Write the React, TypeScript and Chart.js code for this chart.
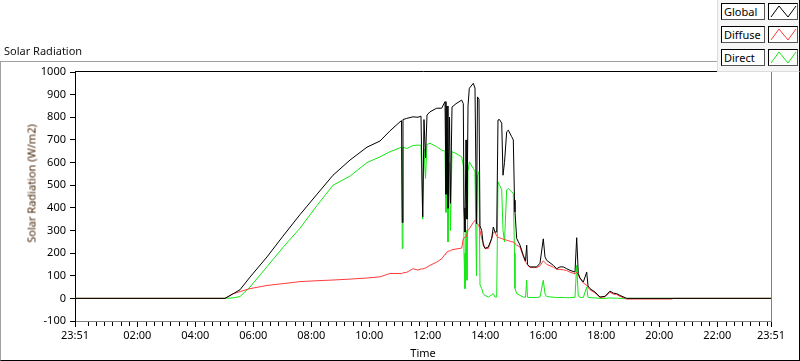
import React, { useEffect, useRef } from 'react';
import { Chart, registerables } from 'chart.js';

Chart.register(...registerables);

// Time of day in hours (23:51 previous day = -0.15)
const times = [
  -0.15, 5.022, 5.298, 5.54, 5.884, 6.471, 7.022, 7.609, 8.195, 8.747, 9.333, 9.919, 10.367, 10.712,
  11.057, 11.109, 11.136, 11.16, 11.288, 11.505, 11.678, 11.781, 11.84, 11.884, 11.936, 11.988,
  12.091, 12.322, 12.495, 12.609, 12.643, 12.678, 12.712, 12.764, 12.798, 12.85, 12.988, 13.184,
  13.24, 13.264, 13.298, 13.333, 13.367, 13.402, 13.447, 13.584, 13.643, 13.695, 13.729, 13.781,
  13.816, 13.874, 13.929, 13.988, 14.102, 14.219, 14.274, 14.333, 14.391, 14.436, 14.488, 14.564,
  14.609, 14.66, 14.736, 14.791, 14.909, 14.964, 15.005, 15.022, 15.081, 15.195, 15.309, 15.384,
  15.426, 15.453, 15.54, 15.771, 15.884, 15.998, 16.057, 16.115, 16.343, 16.46, 16.574, 16.688,
  16.805, 16.919, 17.091, 17.15, 17.205, 17.264, 17.378, 17.495, 17.54, 17.609, 17.781, 17.953,
  18.126, 18.298, 18.412, 18.529, 18.643, 18.874, 20.436, 20.471, 23.85,
];

const globalW = [
  0, 0, 20, 38, 94, 183, 275, 370, 460, 544, 611, 668, 695, 740,
  780, 785, 335, 790, 795, 802, 800, 805, 360, 790, 620, 810,
  824, 840, 840, 869, 460, 850, 398, 800, 420, 845, 860, 876,
  860, 400, 293, 700, 350, 850, 928, 950, 929, 330, 890, 880,
  320, 300, 235, 221, 227, 265, 315, 293, 293, 788, 790, 774,
  544, 600, 736, 743, 714, 700, 434, 382, 265, 235, 190, 165,
  235, 150, 139, 139, 155, 263, 183, 168, 146, 131, 139, 139,
  131, 124, 116, 268, 110, 90, 72, 116, 55, 43, 28, 6,
  9, 32, 23, 21, 13, 0, 0, 0, 0,
];

const diffuseW = [
  0, 0, 20, 30, 43, 57, 65, 74, 78, 81, 85, 90, 95, 110,
  110, 108, 112, 112, 115, 131, 125, 130, 130, 132, 134, 138,
  146, 160, 175, 195, 198, 205, 205, 210, 210, 215, 218, 222,
  264, 268, 270, 275, 285, 300, 308, 335, 345, 338, 330, 320,
  300, 264, 245, 220, 220, 264, 290, 293, 275, 270, 268, 264,
  262, 260, 257, 255, 250, 249, 245, 242, 235, 227, 185, 160,
  155, 148, 136, 136, 144, 166, 158, 150, 138, 128, 128, 126,
  123, 116, 108, 116, 103, 88, 68, 58, 48, 38, 24, 4,
  7, 27, 19, 17, 9, -3, -3, 0, 0,
];

const directW = [
  0, 0, 2, 8, 50, 140, 225, 310, 410, 500, 540, 600, 625, 648,
  665, 668, 220, 668, 662, 675, 677, 676, 350, 660, 530, 680,
  685, 670, 655, 650, 380, 640, 249, 600, 300, 648, 640, 625,
  588, 200, 43, 300, 80, 560, 603, 574, 560, 100, 540, 560,
  60, 43, 20, 13, 6, 15, 21, 6, 6, 515, 500, 480,
  300, 250, 480, 485, 470, 465, 200, 44, 21, 13, 6, 5,
  80, 5, 4, 4, 6, 80, 20, 8, 5, 4, 4, 4,
  3, 3, 5, 146, 10, 5, 4, 50, 5, 3, 2, 0,
  0, 2, 1, 1, 0, 0, 0, 0, 0,
];

const xTickValues = [-0.15, 2, 4, 6, 8, 10, 12, 14, 16, 18, 20, 22, 23.85];
const xTickLabels = ['23:51', '02:00', '04:00', '06:00', '08:00', '10:00', '12:00', '14:00', '16:00', '18:00', '20:00', '22:00', '23:51'];

const seriesNames = ['Global', 'Diffuse', 'Direct'];
const seriesColors = ['#000000', '#ff3b3b', '#14e614'];

const FONT = "'Noto Sans', sans-serif";

function minorTickValues(): number[] {
  const out: number[] = [];
  const step = 2 / 7;
  for (let k = -60; k <= 120; k++) {
    const v = 2 + k * step;
    if (v > -0.15 + 0.01 && v < 23.85 - 0.01) {
      if (Math.abs(v / 2 - Math.round(v / 2)) > 0.001) out.push(v);
    }
  }
  return out;
}

const framePlugin = {
  id: 'frame',
  afterDraw(chart: any) {
    const { ctx, chartArea: a, scales } = chart;
    const x = scales.x;
    ctx.save();
    ctx.lineWidth = 1;
    ctx.strokeStyle = '#000';
    ctx.beginPath();
    ctx.moveTo(a.left, Math.round(a.top) - 0.5);
    ctx.lineTo(a.right + 1, Math.round(a.top) - 0.5);
    ctx.stroke();
    ctx.strokeStyle = '#808080';
    ctx.beginPath();
    ctx.moveTo(Math.round(a.right) + 0.5, a.top);
    ctx.lineTo(Math.round(a.right) + 0.5, a.bottom + 1);
    ctx.stroke();
    ctx.strokeStyle = '#000';
    ctx.beginPath();
    for (const t of minorTickValues()) {
      const px = Math.round(x.getPixelForValue(t)) + 0.5;
      ctx.moveTo(px, Math.round(a.bottom) + 1);
      ctx.lineTo(px, Math.round(a.bottom) + 5);
    }
    ctx.stroke();
    ctx.restore();
  },
};

function Swatch({ color }: { color: string }) {
  return (
    <svg width="28" height="15" style={{ display: 'block' }}>
      <polyline points="2,13 10,2 19,13 27,2" fill="none" stroke={color} strokeWidth="1" />
    </svg>
  );
}

export default function App() {
  const ref = useRef<HTMLCanvasElement | null>(null);

  useEffect(() => {
    if (!ref.current) return;
    const mk = (vals: number[]) => times.map((t, i) => ({ x: t, y: vals[i] }));
    const chart = new Chart(ref.current, {
      type: 'line',
      data: {
        datasets: [
          { label: 'Global', data: mk(globalW), borderColor: seriesColors[0], borderWidth: 1, pointRadius: 0, tension: 0 },
          { label: 'Diffuse', data: mk(diffuseW), borderColor: seriesColors[1], borderWidth: 1, pointRadius: 0, tension: 0 },
          { label: 'Direct', data: mk(directW), borderColor: seriesColors[2], borderWidth: 1, pointRadius: 0, tension: 0 },
        ],
      },
      options: {
        animation: false,
        responsive: false,
        devicePixelRatio: 1,
        layout: { padding: { top: 72, right: 29, left: 0, bottom: 0 } },
        plugins: { legend: { display: false }, tooltip: { enabled: false } },
        scales: {
          x: {
            type: 'linear',
            min: -0.15,
            max: 23.85,
            afterBuildTicks: (scale: any) => {
              scale.ticks = xTickValues.map((v) => ({ value: v }));
            },
            afterFit: (scale: any) => {
              scale.height = 40;
            },
            ticks: {
              autoSkip: false,
              maxRotation: 0,
              padding: 2,
              color: '#000',
              font: { family: FONT, size: 11 },
              callback: (_v: any, i: number) => xTickLabels[i],
            },
            grid: { drawOnChartArea: false, drawTicks: true, tickLength: 6, color: '#000' },
            border: { color: '#808080', width: 1 },
          },
          y: {
            min: -100,
            max: 1000,
            afterFit: (scale: any) => {
              scale.width = 75;
            },
            ticks: {
              stepSize: 100,
              padding: 4,
              color: '#000',
              font: { family: FONT, size: 11 },
              callback: (v: any) => String(v),
            },
            grid: { drawOnChartArea: false, drawTicks: true, tickLength: 5, color: '#000' },
            border: { color: '#000', width: 1 },
          },
        },
      },
      plugins: [framePlugin],
    } as any);
    return () => chart.destroy();
  }, []);

  const rowTops = [3, 26, 49];

  return (
    <div style={{ position: 'fixed', left: 0, top: 0, width: 800, height: 361, background: '#fff', overflow: 'hidden', fontFamily: FONT }}>
      <div style={{ position: 'absolute', left: 0, top: 61, width: 798, height: 298, borderTop: '1px solid #a0a0a0', borderLeft: '1px solid #a0a0a0', borderRight: '1px solid #000', borderBottom: '1px solid #000' }} />
      <canvas ref={ref} width={800} height={361} style={{ position: 'absolute', left: 0, top: 0, width: 800, height: 361 }} />
      <div style={{ position: 'absolute', left: 4, top: 45, fontSize: 11, lineHeight: '11px', color: '#111', whiteSpace: 'nowrap' }}>Solar Radiation</div>
      <div style={{ position: 'absolute', left: 31 - 100, top: 183 - 5.5, width: 200, textAlign: 'center', fontSize: 11, lineHeight: '11px', color: '#4a2608', transform: 'rotate(-90deg)', transformOrigin: '50% 50%', whiteSpace: 'nowrap' }}>Solar Radiation (W/m2)</div>
      <div style={{ position: 'absolute', left: 423 - 50, top: 347, width: 100, textAlign: 'center', fontSize: 11, lineHeight: '11px', color: '#000' }}>Time</div>
      <div style={{ position: 'absolute', left: 717, top: 0, width: 81, height: 71, background: '#f6f6f6', borderLeft: '1px solid #dcdcdc', borderBottom: '1px solid #dcdcdc', borderRight: '1px solid #000' }}>
        {seriesNames.map((n, i) => (
          <React.Fragment key={n}>
            <div style={{ position: 'absolute', left: 3, top: rowTops[i], width: 40, height: 15, background: '#fff', borderTop: '1px solid #000', borderLeft: '1px solid #000', borderRight: '1px solid #555', borderBottom: '1px solid #555', fontSize: 11, lineHeight: '15px', paddingLeft: 2, boxSizing: 'content-box', color: '#000', whiteSpace: 'nowrap' }}>{n}</div>
            <div style={{ position: 'absolute', left: 50, top: rowTops[i], width: 28, height: 15, background: '#fff', borderTop: '1px solid #000', borderLeft: '1px solid #000', borderRight: '1px solid #555', borderBottom: '1px solid #555' }}>
              <Swatch color={seriesColors[i]} />
            </div>
          </React.Fragment>
        ))}
      </div>
    </div>
  );
}
